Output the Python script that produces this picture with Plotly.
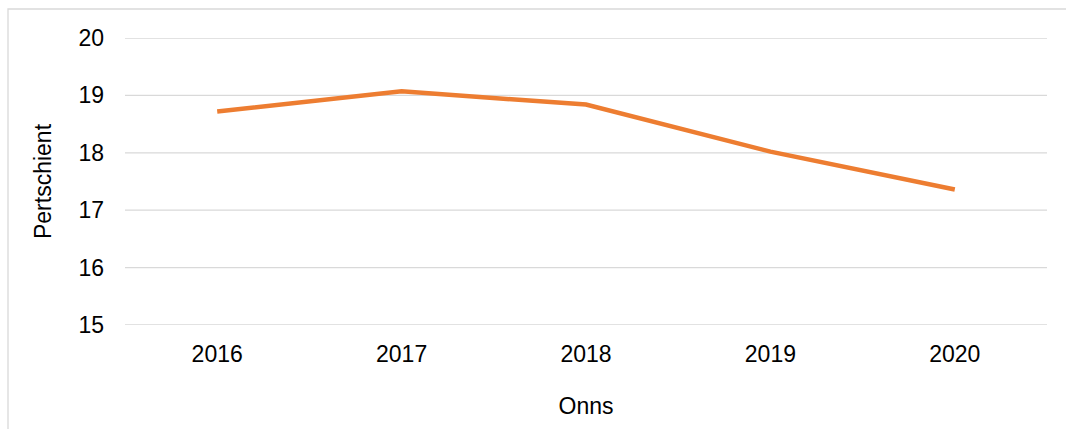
import plotly.graph_objects as go

years = ["2016", "2017", "2018", "2019", "2020"]
values = [18.72, 19.07, 18.84, 18.02, 17.36]
y_ticks = [15, 16, 17, 18, 19, 20]

W, H = 1066, 429
L, R, T, B = 125, 19, 38, 104
pw, ph = W - L - R, H - T - B

fig = go.Figure()
fig.add_trace(go.Scatter(
    x=years, y=values, mode="lines",
    line=dict(color="#ED7D31", width=4.5),
    hoverinfo="skip", cliponaxis=False,
))

font = dict(family="Liberation Sans, Arial, sans-serif", size=23, color="#000000")

shapes = [dict(
    type="rect", xref="paper", yref="paper",
    x0=(8 - L) / pw, x1=1.2, y0=-0.6, y1=1 + (T - 9) / ph,
    line=dict(color="#D9D9D9", width=1.3), fillcolor="rgba(0,0,0,0)",
    layer="below",
)]
for t in y_ticks:
    shapes.append(dict(
        type="line", xref="paper", yref="y", x0=0, x1=1, y0=t, y1=t,
        line=dict(color="#D9D9D9", width=1.3), layer="below",
    ))

fig.update_layout(
    width=W, height=H,
    margin=dict(l=L, r=R, t=T, b=B),
    paper_bgcolor="white", plot_bgcolor="white",
    showlegend=False,
    font=font,
    xaxis=dict(
        type="category", range=[-0.5, 4.5], showgrid=False, zeroline=False,
        showline=False, ticks="", tickfont=font, ticklabelstandoff=13,
        title=dict(text="Onns", font=font, standoff=31),
    ),
    yaxis=dict(
        range=[15, 20], tickvals=y_ticks, showgrid=False,
        zeroline=False, showline=False,
        ticks="", tickfont=font, ticklabelstandoff=20,
        title=dict(text="Pertschient", font=font, standoff=20),
    ),
    shapes=shapes,
)

fig.write_html(
    "out.html",
    config={"displayModeBar": False, "staticPlot": True},
    post_script="document.body.style.margin='0';document.body.style.overflow='hidden';",
)
